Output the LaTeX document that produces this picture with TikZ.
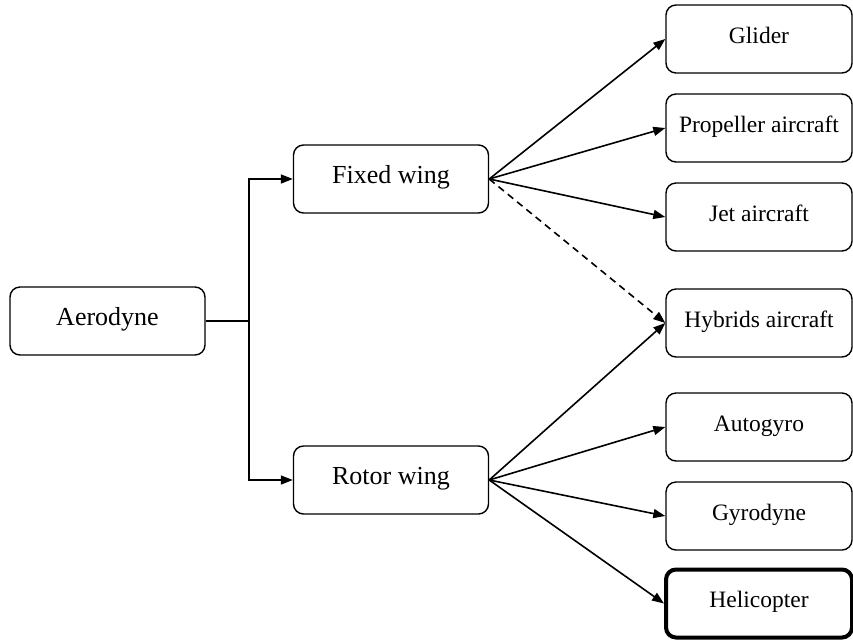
\documentclass[tikz,border=0pt]{standalone}
\usepackage{fontspec}
\setmainfont{Liberation Serif}
\usetikzlibrary{arrows.meta}
\tikzset{
  box/.style={draw=black, line width=1.4pt, rounded corners=10pt, minimum width=195pt, minimum height=68pt, inner sep=0pt, font=\fontsize{26pt}{28pt}\selectfont, text height=0.95em, text depth=0em},
  leaf/.style={draw=black, line width=1.4pt, rounded corners=10pt, minimum width=186pt, minimum height=68pt, inner sep=0pt, font=\fontsize{23.5pt}{25pt}\selectfont, text height=0.8em, text depth=0em},
  heavy/.style={line width=4pt},
  conn/.style={line width=1.6pt, -{Triangle[length=12pt,width=9pt]}},
}
\begin{document}
\begin{tikzpicture}[x=1pt, y=-1pt]
\useasboundingbox (0,0) rectangle (853,641);
\node[box] (aero) at (107.5,321) {Aerodyne};
\node[box] (fixed) at (391,179) {Fixed wing};
\node[box] (rotor) at (391,480) {Rotor wing};
\node[leaf] (glider) at (759,39) {Glider};
\node[leaf] (prop) at (759,128) {Propeller aircraft};
\node[leaf] (jet) at (759,217) {Jet aircraft};
\node[leaf] (hyb) at (759,323) {Hybrids aircraft};
\node[leaf] (auto) at (759,427) {Autogyro};
\node[leaf] (gyro) at (759,516) {Gyrodyne};
\node[leaf, heavy] (heli) at (759,603.5) {Helicopter};
\coordinate (branch) at (249,321);
\draw[line width=1.6pt] (aero.east) -- (branch);
\draw[conn] (branch) |- (fixed.west);
\draw[conn] (branch) |- (rotor.west);
\draw[conn] (fixed.east) -- (glider.west);
\draw[conn] (fixed.east) -- (prop.west);
\draw[conn] (fixed.east) -- (jet.west);
\draw[conn, dashed, dash pattern=on 7pt off 5pt] (fixed.east) -- (hyb.west);
\draw[conn] (rotor.east) -- (hyb.west);
\draw[conn] (rotor.east) -- (auto.west);
\draw[conn] (rotor.east) -- (gyro.west);
\draw[conn] (rotor.east) -- (heli.west);
\end{tikzpicture}
\end{document}
